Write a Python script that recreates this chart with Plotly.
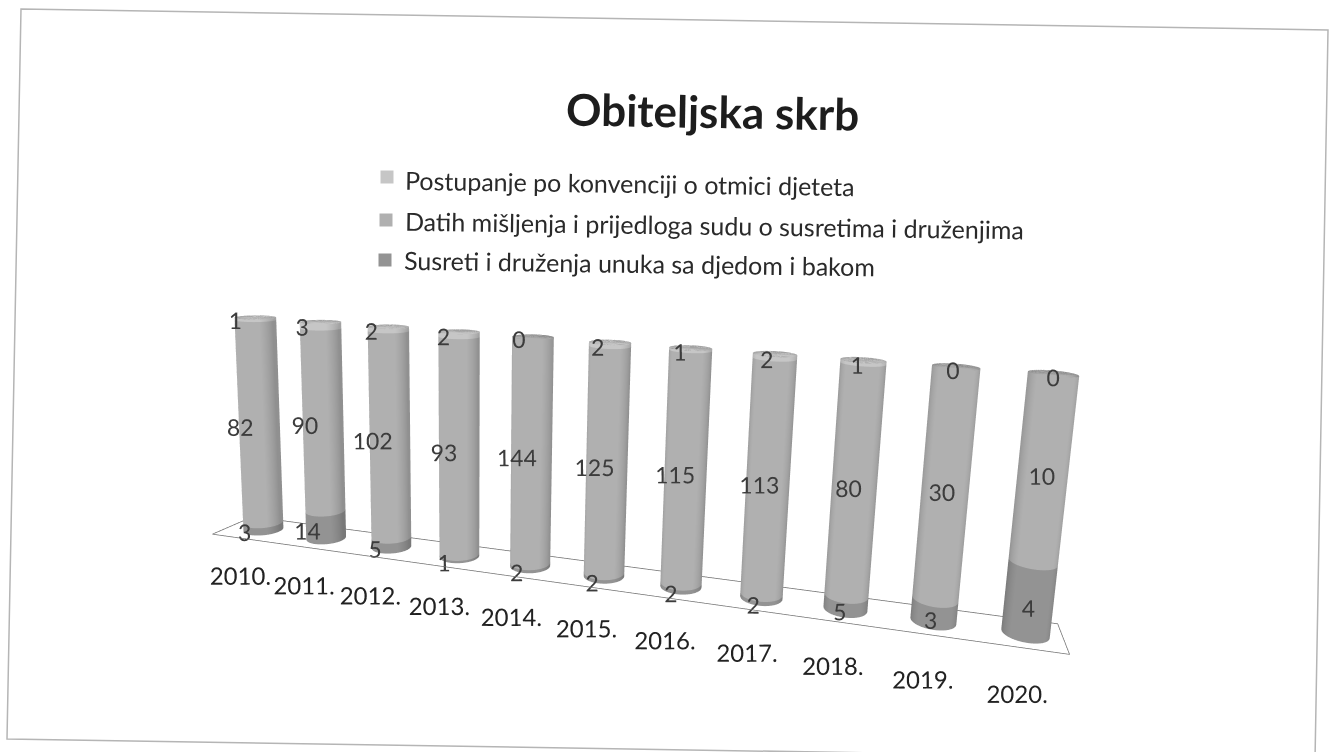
import numpy as np
import plotly.graph_objects as go

years = ["2010.", "2011.", "2012.", "2013.", "2014.", "2015.", "2016.", "2017.", "2018.", "2019.", "2020."]
susreti = [3, 14, 5, 1, 2, 2, 2, 2, 5, 3, 4]
datih = [82, 90, 102, 93, 144, 125, 115, 113, 80, 30, 10]
postupanje = [1, 3, 2, 2, 0, 2, 1, 2, 1, 0, 0]
series_names = [
    "Postupanje po konvenciji o otmici djeteta",
    "Datih mišljenja i prijedloga sudu o susretima i druženjima",
    "Susreti i druženja unuka sa djedom i bakom",
]
series_colors = ["#c6c6c6", "#b0b0b0", "#939393"]

RADIUS = 0.255
N = 48


def cylinder(x0, z0, z1, cap):
    t = np.linspace(0, 2 * np.pi, N, endpoint=False)
    cx = x0 + RADIUS * np.cos(t)
    cy = RADIUS * np.sin(t)
    xs = np.r_[cx, cx]
    ys = np.r_[cy, cy]
    zs = np.r_[np.full(N, z0), np.full(N, z1)]
    i, j, k = [], [], []
    for a in range(N):
        b = (a + 1) % N
        i += [a, b]
        j += [b, b + N]
        k += [a + N, a + N]
    if cap:
        xs = np.r_[xs, x0]
        ys = np.r_[ys, 0]
        zs = np.r_[zs, z1]
        c = len(xs) - 1
        for a in range(N):
            b = (a + 1) % N
            i.append(a + N)
            j.append(b + N)
            k.append(c)
    return xs, ys, zs, i, j, k


totals = [a + b + c for a, b, c in zip(susreti, datih, postupanje)]
stack = [susreti, datih, postupanje]
fig = go.Figure()

# floor
fx = [-0.5, 10.4, 10.4, -0.5, -0.5]
fy = [-0.4, -0.4, 0.4, 0.4, -0.4]
fig.add_trace(go.Scatter3d(x=fx, y=fy, z=[0] * 5, mode="lines", line=dict(color="#707070", width=1.5),
                           hoverinfo="skip", showlegend=False))

for s, (vals, color) in enumerate(zip(stack, series_colors[::-1])):
    X, Y, Z, I, J, K = [], [], [], [], [], []
    off = 0
    for idx, v in enumerate(vals):
        below = sum(stack[q][idx] for q in range(s))
        z0 = 100 * below / totals[idx]
        z1 = 100 * (below + v) / totals[idx]
        if z1 <= z0:
            continue
        xs, ys, zs, i, j, k = cylinder(idx, z0, z1, abs(z1 - 100) < 1e-6)
        X += list(xs); Y += list(ys); Z += list(zs)
        I += [p + off for p in i]; J += [p + off for p in j]; K += [p + off for p in k]
        off += len(xs)
    fig.add_trace(go.Mesh3d(x=X, y=Y, z=Z, i=I, j=J, k=K, color=color, flatshading=False,
                            lighting=dict(ambient=0.82, diffuse=0.26, specular=0.0, roughness=1.0, fresnel=0.0),
                            lightposition=dict(x=200, y=-3000, z=1500),
                            hoverinfo="skip", showscale=False))

# data labels
lx, ly, lz, lt = [], [], [], []
for s, vals in enumerate(stack):
    for idx, v in enumerate(vals):
        below = sum(stack[q][idx] for q in range(s))
        lx.append(idx - 0.05)
        ly.append(-0.32)
        lz.append(100 * (below + v / 2) / totals[idx])
        lt.append(str(v))
fig.add_trace(go.Scatter3d(x=lx, y=ly, z=lz, mode="text", text=lt, textposition="middle center",
                           textfont=dict(family="Lato", size=23, color="#3c3c3c"),
                           hoverinfo="skip", showlegend=False))
# category labels
fig.add_trace(go.Scatter3d(x=[-0.42 + 1.04 * q for q in range(11)], y=[0] * 11, z=[-25] * 11, mode="text", text=years,
                           textposition="middle center",
                           textfont=dict(family="Lato", size=24, color="#222222"),
                           hoverinfo="skip", showlegend=False))

# camera (scene units: one category step = 0.1)
theta = 0.0227
R = np.array([[np.cos(theta), np.sin(theta), 0], [-np.sin(theta), np.cos(theta), 0], [0, 0, 1]])
xv = R @ np.array([.9687, -.0552, -.2409])
zv = R @ np.array([.0143, .9855, -.1687])
yv = -np.cross(zv, xv)
C = R @ np.array([-.0752, -.2489, 1.1467]) + .104 * zv
T = np.array([-.0025, .005, C[2]])
eye = [-C @ xv, -C @ yv, -C @ zv]
cen = [(T - C) @ xv, (T - C) @ yv, (T - C) @ zv]
up = [xv[1], yv[1], zv[1]]

axis = dict(visible=False, showgrid=False, zeroline=False, showticklabels=False, showbackground=False, showspikes=False)
fig.update_layout(
    width=1332, height=752, paper_bgcolor="#ffffff", showlegend=False,
    margin=dict(l=0, r=0, t=0, b=0),
    scene=dict(
        domain=dict(x=[0, 1], y=[0, 1]),
        aspectmode="manual", aspectratio=dict(x=1.2, y=0.2, z=0.3861),
        xaxis=dict(axis, range=[-1, 11]),
        yaxis=dict(axis, range=[-1, 1]),
        zaxis=dict(axis, range=[-30, 100]),
        camera=dict(eye=dict(x=eye[0], y=eye[1], z=eye[2]),
                    center=dict(x=cen[0], y=cen[1], z=cen[2]),
                    up=dict(x=up[0], y=up[1], z=up[2])),
    ),
    annotations=[
        dict(text="<b>Obiteljska skrb</b>", x=712 / 1332, y=1 - 111 / 752, xref="paper", yref="paper", showarrow=False,
             yanchor="middle", font=dict(family="Lato", size=44, color="#1d1d1d"), textangle=1),
    ] + [
        dict(text=n, x=px / 1332, y=1 - py / 752, xref="paper", yref="paper", showarrow=False, xanchor="left",
             yanchor="middle", font=dict(family="Lato", size=25, color="#2a2a2a"), textangle=0.8)
        for n, px, py in zip(series_names, [403, 403, 402], [183, 225, 263])
    ],
    shapes=[
        dict(type="rect", xref="paper", yref="paper", x0=(x - 6.5) / 1332, x1=(x + 6.5) / 1332,
             y0=1 - (y + 6.5) / 752, y1=1 - (y - 6.5) / 752, fillcolor=c, line=dict(width=0))
        for x, y, c in zip([387, 386, 385], [177, 220, 260], series_colors)
    ] + [
        dict(type="path", xref="paper", yref="paper", line=dict(color="#b5b5b5", width=1.5),
             path=f"M {21/1332} {1-9/752} L {1328/1332} {1-30/752} L {1315/1332} {1-760/752} L {7/1332} {1-739/752} Z"),
    ],
)
fig.write_html("out.html", post_script="document.body.style.margin='0';", config=dict(displayModeBar=False))
